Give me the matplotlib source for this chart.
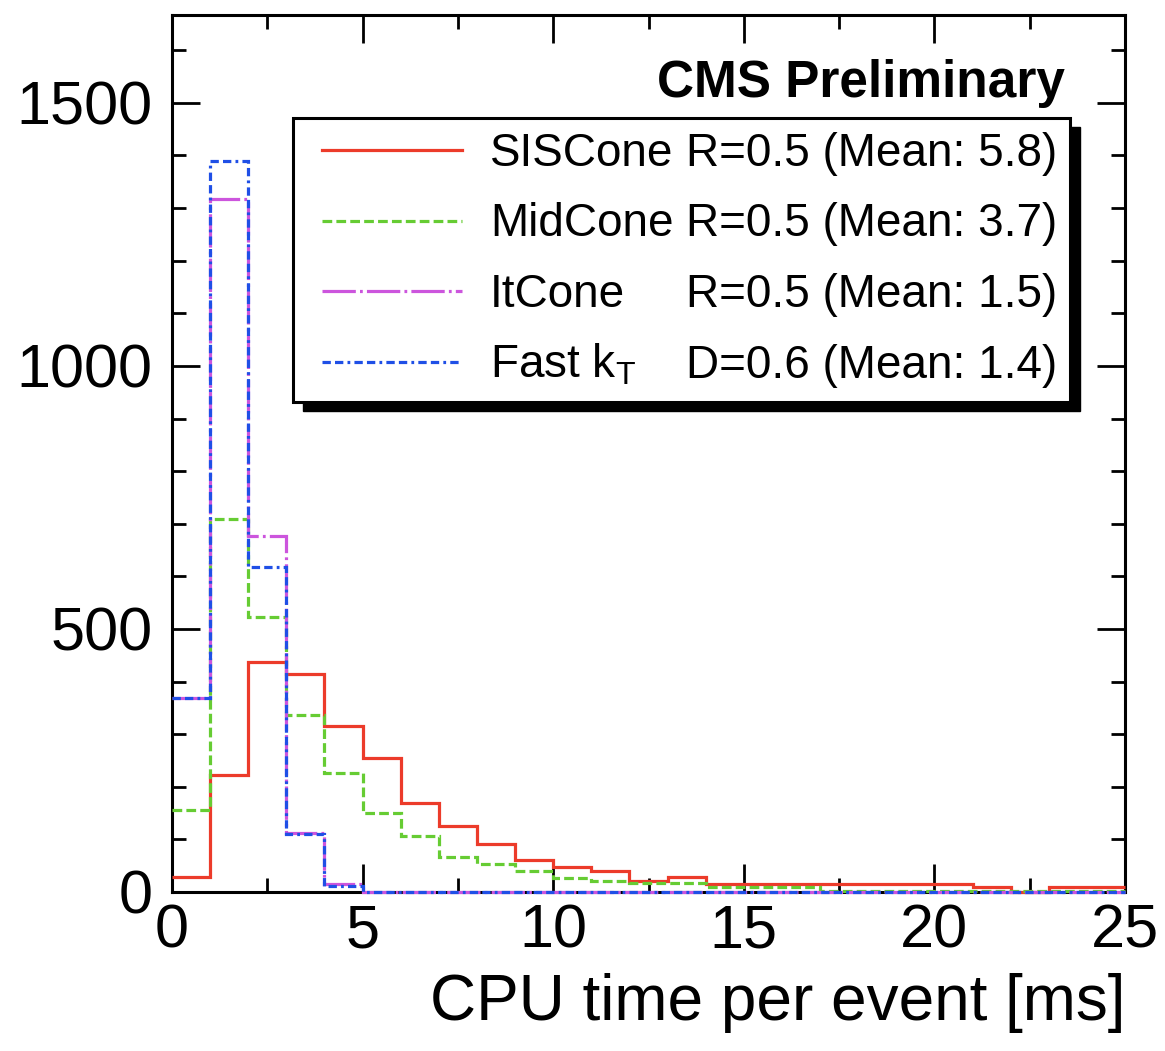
import numpy as np
import matplotlib
matplotlib.use("Agg")
import matplotlib.pyplot as plt
from matplotlib.patches import Rectangle
from matplotlib.lines import Line2D

plt.rcParams["font.family"] = ["Liberation Sans", "DejaVu Sans"]
plt.rcParams["mathtext.fontset"] = "custom"
plt.rcParams["mathtext.rm"] = "Liberation Sans"
plt.rcParams["mathtext.it"] = "Liberation Sans:italic"
plt.rcParams["lines.scale_dashes"] = False

# ── Data: 1 ms bins from 0 to 25 ───────────────────────────
edges = np.arange(0, 26, 1)
siscone = [28, 222, 438, 414, 316, 254, 170, 125, 92, 60, 47, 40, 21, 29,
           16, 16, 16, 16, 16, 16, 16, 9, 0, 10, 10]
midcone = [156, 709, 522, 336, 227, 150, 106, 67, 54, 39, 26, 21, 17, 17,
           9, 9, 9, 1, 1, 1, 1, 1, 1, 1, 1]
itcone = [368, 1318, 677, 113, 15] + [0] * 20
fastkt = [368, 1389, 618, 110, 11] + [0] * 20

names = ["SISCone", "MidCone", "ItCone", "Fast k$_\\mathrm{T}$"]
params = ["R=0.5 (Mean: 5.8)", "R=0.5 (Mean: 3.7)",
          "R=0.5 (Mean: 1.5)", "D=0.6 (Mean: 1.4)"]
colors = ["#ec3b2a", "#66cc33", "#cc55dd", "#1f4fe6"]
dashes = [None, (7, 3), (24, 3, 2, 3), (6, 3, 6, 3, 2, 3)]
series = [siscone, midcone, itcone, fastkt]

W, H = 1165, 1051
fig = plt.figure(figsize=(W / 100, H / 100), dpi=100)
ax = fig.add_axes([172 / W, 1 - 892 / H, (1125 - 172) / W, (892 - 15) / H])


def fx(x):
    return x / W


def fy(y):
    return 1 - y / H


# ── Histograms ─────────────────────────────────────────────
for vals, c, d in zip(series, colors, dashes):
    st = ax.stairs(vals, edges, baseline=None, color=c, lw=2.3,
                   zorder=3, clip_on=False)
    if d is not None:
        st.set_linestyle((0, d))

ax.set_xlim(0, 25)
ax.set_ylim(0, 1667)
ax.set_xticks(np.arange(0, 26, 5))
ax.set_xticks(np.arange(0, 25.1, 2.5), minor=True)
ax.set_yticks([0, 500, 1000, 1500])
ax.set_yticks(np.arange(0, 1667, 100), minor=True)
ax.tick_params(which="both", direction="in", top=True, right=True,
               width=2, labelsize=44, colors="black")
ax.tick_params(which="major", length=20)
ax.tick_params(which="minor", length=10)
ax.tick_params(axis="x", pad=8)
ax.tick_params(axis="y", pad=14)
for sp in ax.spines.values():
    sp.set_linewidth(2.2)

fig.text(fx(1125), fy(1020), "CPU time per event [ms]", ha="right",
         va="baseline", fontsize=46)

# ── CMS label ──────────────────────────────────────────────
fig.text(fx(1065), fy(97), "CMS Preliminary", ha="right", va="baseline",
         fontsize=37, fontweight="bold")

# ── Legend box with shadow ─────────────────────────────────
bx0, bx1, by0, by1 = 293, 1070, 118, 402
fig.patches.append(Rectangle((fx(bx0 + 10), fy(by1 + 9)), fx(bx1 - bx0),
                             (by1 - by0) / H, transform=fig.transFigure,
                             facecolor="black", edgecolor="black", zorder=5))
fig.patches.append(Rectangle((fx(bx0), fy(by1)), fx(bx1 - bx0),
                             (by1 - by0) / H, transform=fig.transFigure,
                             facecolor="white", edgecolor="black", lw=2.2,
                             zorder=6))

row_y = [150, 220.5, 291, 361.5]
for ry, name, par, c, d in zip(row_y, names, params, colors, dashes):
    ln = Line2D([fx(322), fx(462)], [fy(ry), fy(ry)], color=c, lw=2.3,
                transform=fig.transFigure, zorder=7)
    if d is not None:
        ln.set_linestyle((0, d))
    fig.lines.append(ln)
    fig.text(fx(490), fy(ry + 16), name, ha="left", va="baseline",
             fontsize=33, zorder=7)
    fig.text(fx(1057), fy(ry + 16), par, ha="right", va="baseline",
             fontsize=33, zorder=7)

fig.savefig("out.png", dpi=100)
